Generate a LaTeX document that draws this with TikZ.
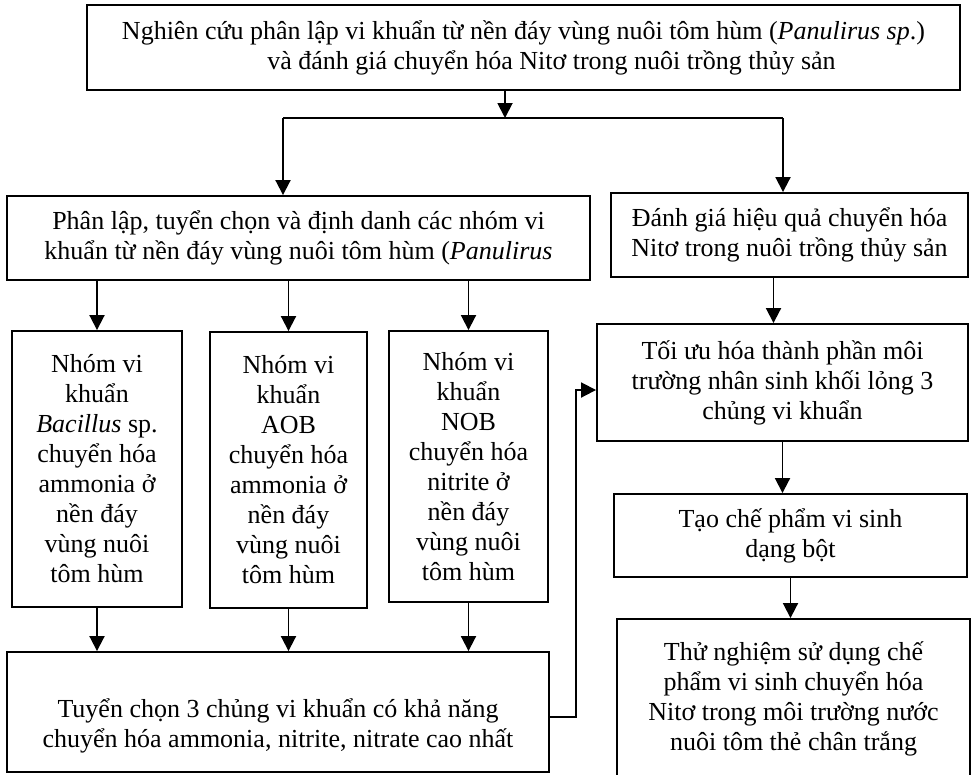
\documentclass[tikz,border=0pt]{standalone}
\usepackage{fontspec}
\setmainfont{Liberation Serif}
\usetikzlibrary{arrows.meta}

\begin{document}
\begin{tikzpicture}[x=1pt,y=-1pt,
    box/.style={draw,line width=1.9pt,inner sep=0pt,align=center,font=\fontsize{26}{30}\selectfont},
    arr/.style={line width=1.9pt,-{Triangle[width=15pt,length=15pt]}}]
  \useasboundingbox (0,0) rectangle (973,774);

  \node[box,minimum width=873pt,minimum height=85pt] (goal) at (523.5,47.5)
    {Nghiên cứu phân lập vi khuẩn từ nền đáy vùng nuôi tôm hùm (\textit{Panulirus sp}.)\\\hspace*{56pt}và đánh giá chuyển hóa Nitơ trong nuôi trồng thủy sản};

  % left branch
  \node[box,minimum width=583pt,minimum height=84pt] (plap) at (298.5,238)
    {Phân lập, tuyển chọn và định danh các nhóm vi\\khuẩn từ nền đáy vùng nuôi tôm hùm (\textit{Panulirus}};
  \node[box,minimum width=170pt,minimum height=276pt] (g1) at (97,469)
    {Nhóm vi\\khuẩn\\\textit{Bacillus} sp.\\chuyển hóa\\ammonia ở\\nền đáy\\vùng nuôi\\tôm hùm};
  \node[box,minimum width=157pt,minimum height=276pt] (g2) at (288.5,470)
    {Nhóm vi\\khuẩn\\AOB\\chuyển hóa\\ammonia ở\\nền đáy\\vùng nuôi\\tôm hùm};
  \node[box,minimum width=159pt,minimum height=271pt] (g3) at (468.5,466.5)
    {Nhóm vi\\khuẩn\\NOB\\chuyển hóa\\nitrite ở\\nền đáy\\vùng nuôi\\tôm hùm};
  \node[box,minimum width=542pt,minimum height=120pt] (tuyen) at (278,712)
    {\rule{0pt}{46pt}Tuyển chọn 3 chủng vi khuẩn có khả năng\\chuyển hóa ammonia, nitrite, nitrate cao nhất};

  % right branch
  \node[box,minimum width=357pt,minimum height=84pt] (danhgia) at (789.5,235)
    {Đánh giá hiệu quả chuyển hóa\\Nitơ trong nuôi trồng thủy sản};
  \node[box,minimum width=371pt,minimum height=117pt] (toiuu) at (782.5,382.5)
    {Tối ưu hóa thành phần môi\\trường nhân sinh khối lỏng 3\\chủng vi khuẩn};
  \node[box,minimum width=353pt,minimum height=83pt] (tao) at (790.5,535.5)
    {Tạo chế phẩm vi sinh\\dạng bột};
  \node[box,minimum width=353pt,minimum height=159pt] (thu) at (793.5,698.5)
    {Thử nghiệm sử dụng chế\\phẩm vi sinh chuyển hóa\\Nitơ trong môi trường nước\\nuôi tôm thẻ chân trắng};

  \coordinate (split) at (505,118);
  \coordinate (jl) at (283,118);
  \coordinate (jr) at (783,118);
  \draw[arr] (goal.south -| split) -- (split);
  \draw[line width=1.9pt] (jl) -- (jr);
  \draw[arr] (jl) -- (jl |- plap.north);
  \draw[arr] (jr) -- (jr |- danhgia.north);

  \foreach \g in {g1,g2,g3} {
    \draw[arr] (\g.north |- plap.south) -- (\g.north);
    \draw[arr] (\g.south) -- (\g.south |- tuyen.north);
  }

  \draw[arr] ([xshift=-16pt]danhgia.south) -- ([xshift=-16pt]danhgia.south |- toiuu.north);
  \draw[arr] (toiuu.south) -- (toiuu.south |- tao.north);
  \draw[arr] (tao.south) -- (tao.south |- thu.north);
  \draw[arr] ([yshift=-5pt]tuyen.east) -- ++(26,0) |- ([yshift=-7.5pt]toiuu.west);
\end{tikzpicture}
\end{document}
